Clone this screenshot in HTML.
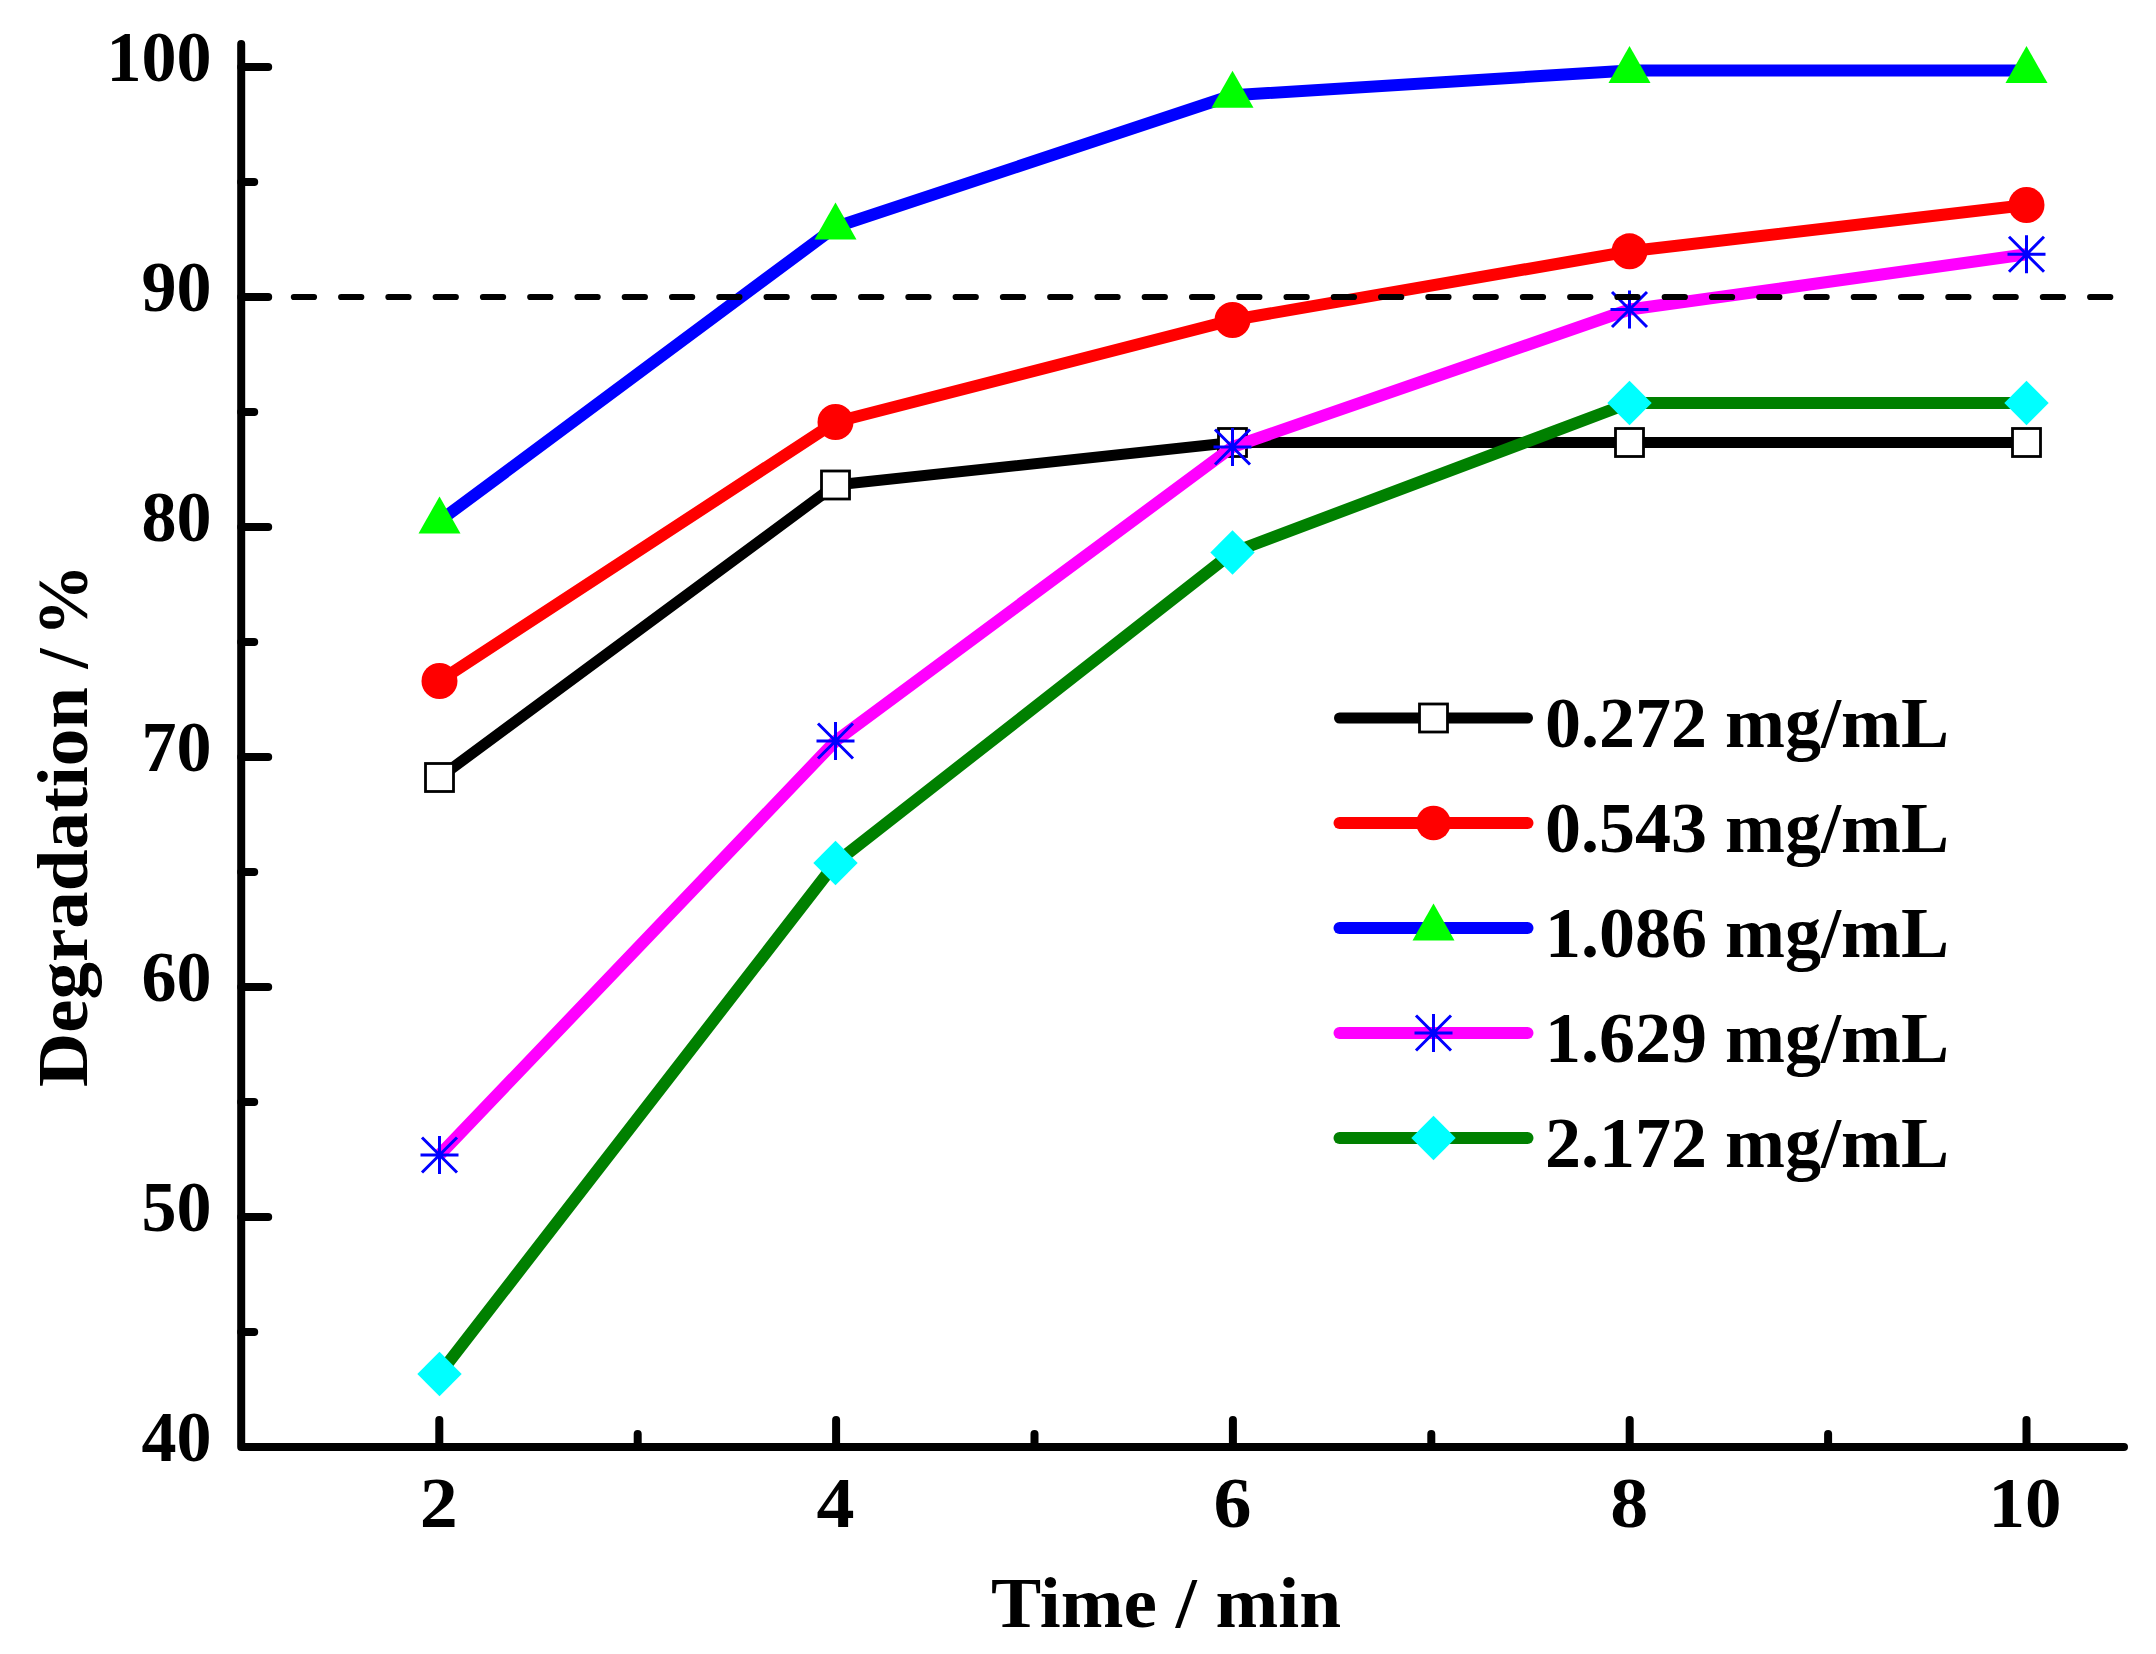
<!DOCTYPE html>
<html lang="en">
<head>
<meta charset="utf-8">
<title>Degradation vs Time</title>
<style>
html,body{margin:0;padding:0;background:#ffffff;}
body{width:2156px;height:1654px;overflow:hidden;}
svg{display:block;}
text{font-family:"Liberation Serif", "DejaVu Serif", serif;font-weight:bold;fill:#000000;}
</style>
</head>
<body>
<svg width="2156" height="1654" viewBox="0 0 2156 1654">
<rect x="0" y="0" width="2156" height="1654" fill="#ffffff"/>

<polyline points="439.5,777.5 835.5,485.0 1232.5,442.5 1629.5,442.5 2026.5,442.5" fill="none" stroke="#000000" stroke-width="11" stroke-linejoin="round" stroke-linecap="butt"/>
<rect x="425.5" y="763.5" width="28" height="28" fill="#ffffff" stroke="#000000" stroke-width="2.8"/>
<rect x="821.5" y="471.0" width="28" height="28" fill="#ffffff" stroke="#000000" stroke-width="2.8"/>
<rect x="1218.5" y="428.5" width="28" height="28" fill="#ffffff" stroke="#000000" stroke-width="2.8"/>
<rect x="1615.5" y="428.5" width="28" height="28" fill="#ffffff" stroke="#000000" stroke-width="2.8"/>
<rect x="2012.5" y="428.5" width="28" height="28" fill="#ffffff" stroke="#000000" stroke-width="2.8"/>
<polyline points="439.5,681.0 835.5,422.0 1232.5,320.0 1629.5,251.3 2026.5,205.0" fill="none" stroke="#ff0000" stroke-width="12" stroke-linejoin="round" stroke-linecap="butt"/>
<circle cx="439.5" cy="681.0" r="18" fill="#ff0000"/>
<circle cx="835.5" cy="422.0" r="18" fill="#ff0000"/>
<circle cx="1232.5" cy="320.0" r="18" fill="#ff0000"/>
<circle cx="1629.5" cy="251.3" r="18" fill="#ff0000"/>
<circle cx="2026.5" cy="205.0" r="18" fill="#ff0000"/>
<polyline points="439.5,521.0 835.5,227.0 1232.5,95.3 1629.5,70.5 2026.5,70.5" fill="none" stroke="#0000ff" stroke-width="12" stroke-linejoin="round" stroke-linecap="butt"/>
<polygon points="439.5,496.5 460.5,533.4 418.5,533.4" fill="#00ff00"/>
<polygon points="835.5,202.5 856.5,239.4 814.5,239.4" fill="#00ff00"/>
<polygon points="1232.5,70.8 1253.5,107.7 1211.5,107.7" fill="#00ff00"/>
<polygon points="1629.5,46.0 1650.5,82.9 1608.5,82.9" fill="#00ff00"/>
<polygon points="2026.5,46.0 2047.5,82.9 2005.5,82.9" fill="#00ff00"/>
<polyline points="439.5,1155.0 835.5,741.0 1232.5,447.0 1629.5,309.5 2026.5,254.3" fill="none" stroke="#ff00ff" stroke-width="12" stroke-linejoin="round" stroke-linecap="butt"/>
<path d="M420.5 1155.0H458.5M439.5 1136.0V1174.0M422.0 1137.5L457.0 1172.5M422.0 1172.5L457.0 1137.5" fill="none" stroke="#0000ff" stroke-width="3" stroke-linecap="butt"/>
<path d="M816.5 741.0H854.5M835.5 722.0V760.0M818.0 723.5L853.0 758.5M818.0 758.5L853.0 723.5" fill="none" stroke="#0000ff" stroke-width="3" stroke-linecap="butt"/>
<path d="M1213.5 447.0H1251.5M1232.5 428.0V466.0M1215.0 429.5L1250.0 464.5M1215.0 464.5L1250.0 429.5" fill="none" stroke="#0000ff" stroke-width="3" stroke-linecap="butt"/>
<path d="M1610.5 309.5H1648.5M1629.5 290.5V328.5M1612.0 292.0L1647.0 327.0M1612.0 327.0L1647.0 292.0" fill="none" stroke="#0000ff" stroke-width="3" stroke-linecap="butt"/>
<path d="M2007.5 254.3H2045.5M2026.5 235.3V273.3M2009.0 236.8L2044.0 271.8M2009.0 271.8L2044.0 236.8" fill="none" stroke="#0000ff" stroke-width="3" stroke-linecap="butt"/>
<polyline points="439.5,1374.0 835.5,863.0 1232.5,552.5 1629.5,403.0 2026.5,403.0" fill="none" stroke="#008000" stroke-width="12" stroke-linejoin="round" stroke-linecap="butt"/>
<polygon points="439.5,1351.8 461.7,1374.0 439.5,1396.2 417.3,1374.0" fill="#00ffff"/>
<polygon points="835.5,840.8 857.7,863.0 835.5,885.2 813.3,863.0" fill="#00ffff"/>
<polygon points="1232.5,530.3 1254.7,552.5 1232.5,574.7 1210.3,552.5" fill="#00ffff"/>
<polygon points="1629.5,380.8 1651.7,403.0 1629.5,425.2 1607.3,403.0" fill="#00ffff"/>
<polygon points="2026.5,380.8 2048.7,403.0 2026.5,425.2 2004.3,403.0" fill="#00ffff"/>
<line x1="293.9" y1="297" x2="2111" y2="297" stroke="#000000" stroke-width="6.2" stroke-linecap="round" stroke-dasharray="20.1 27.17"/>
<g stroke="#000000" stroke-width="8" stroke-linecap="round" fill="none">
<path d="M241.2 44V1447.0H2124" stroke-linejoin="round"/>
<line x1="241.2" y1="1332.0" x2="254.2" y2="1332.0"/>
<line x1="241.2" y1="1217.0" x2="268.2" y2="1217.0"/>
<line x1="241.2" y1="1102.0" x2="254.2" y2="1102.0"/>
<line x1="241.2" y1="987.0" x2="268.2" y2="987.0"/>
<line x1="241.2" y1="872.0" x2="254.2" y2="872.0"/>
<line x1="241.2" y1="757.0" x2="268.2" y2="757.0"/>
<line x1="241.2" y1="642.0" x2="254.2" y2="642.0"/>
<line x1="241.2" y1="527.0" x2="268.2" y2="527.0"/>
<line x1="241.2" y1="412.0" x2="254.2" y2="412.0"/>
<line x1="241.2" y1="297.0" x2="268.2" y2="297.0"/>
<line x1="241.2" y1="182.0" x2="254.2" y2="182.0"/>
<line x1="241.2" y1="67.0" x2="268.2" y2="67.0"/>
<line x1="439.3" y1="1447.0" x2="439.3" y2="1420.0"/>
<line x1="637.7" y1="1447.0" x2="637.7" y2="1434.0"/>
<line x1="836.1" y1="1447.0" x2="836.1" y2="1420.0"/>
<line x1="1034.5" y1="1447.0" x2="1034.5" y2="1434.0"/>
<line x1="1232.9" y1="1447.0" x2="1232.9" y2="1420.0"/>
<line x1="1431.3" y1="1447.0" x2="1431.3" y2="1434.0"/>
<line x1="1629.7" y1="1447.0" x2="1629.7" y2="1420.0"/>
<line x1="1828.1" y1="1447.0" x2="1828.1" y2="1434.0"/>
<line x1="2026.5" y1="1447.0" x2="2026.5" y2="1420.0"/>
</g>
<text x="141.5" y="1461.0" font-size="72" textLength="70.0" lengthAdjust="spacingAndGlyphs">40</text>
<text x="141.5" y="1231.0" font-size="72" textLength="70.0" lengthAdjust="spacingAndGlyphs">50</text>
<text x="141.5" y="1001.0" font-size="72" textLength="70.0" lengthAdjust="spacingAndGlyphs">60</text>
<text x="141.5" y="771.0" font-size="72" textLength="70.0" lengthAdjust="spacingAndGlyphs">70</text>
<text x="141.5" y="541.0" font-size="72" textLength="70.0" lengthAdjust="spacingAndGlyphs">80</text>
<text x="141.5" y="311.0" font-size="72" textLength="70.0" lengthAdjust="spacingAndGlyphs">90</text>
<text x="106.5" y="81.0" font-size="72" textLength="105.0" lengthAdjust="spacingAndGlyphs">100</text>
<text x="419.8" y="1526.5" font-size="72" textLength="38.0" lengthAdjust="spacingAndGlyphs">2</text>
<text x="816.6" y="1526.5" font-size="72" textLength="38.0" lengthAdjust="spacingAndGlyphs">4</text>
<text x="1213.4" y="1526.5" font-size="72" textLength="38.0" lengthAdjust="spacingAndGlyphs">6</text>
<text x="1610.2" y="1526.5" font-size="72" textLength="38.0" lengthAdjust="spacingAndGlyphs">8</text>
<text x="1988.5" y="1526.5" font-size="72" textLength="73.0" lengthAdjust="spacingAndGlyphs">10</text>
<text x="991" y="1626.7" font-size="72" textLength="350" lengthAdjust="spacingAndGlyphs">Time / min</text>
<g transform="translate(87 1086) rotate(-90)" font-size="72"><text x="-1" y="0" textLength="400" lengthAdjust="spacingAndGlyphs">Degradation</text><text x="417.5" y="0" textLength="20" lengthAdjust="spacingAndGlyphs">/</text><text x="449.8" y="0" textLength="72" lengthAdjust="spacingAndGlyphs">%</text></g>
<line x1="1339.5" y1="718" x2="1527.5" y2="718" stroke="#000000" stroke-width="11" stroke-linecap="round"/>
<rect x="1419.5" y="704.0" width="28" height="28" fill="#ffffff" stroke="#000000" stroke-width="2.8"/>
<text x="1545" y="746.6" font-size="72" textLength="404" lengthAdjust="spacingAndGlyphs">0.272 mg/mL</text>
<line x1="1339.5" y1="823" x2="1527.5" y2="823" stroke="#ff0000" stroke-width="12" stroke-linecap="round"/>
<circle cx="1433.5" cy="823.0" r="17.3" fill="#ff0000"/>
<text x="1545" y="851.6" font-size="72" textLength="404" lengthAdjust="spacingAndGlyphs">0.543 mg/mL</text>
<line x1="1339.5" y1="928" x2="1527.5" y2="928" stroke="#0000ff" stroke-width="12" stroke-linecap="round"/>
<polygon points="1433.5,903.5 1454.5,940.4 1412.5,940.4" fill="#00ff00"/>
<text x="1545" y="956.6" font-size="72" textLength="404" lengthAdjust="spacingAndGlyphs">1.086 mg/mL</text>
<line x1="1339.5" y1="1033" x2="1527.5" y2="1033" stroke="#ff00ff" stroke-width="12" stroke-linecap="round"/>
<path d="M1414.5 1033.0H1452.5M1433.5 1014.0V1052.0M1416.0 1015.5L1451.0 1050.5M1416.0 1050.5L1451.0 1015.5" fill="none" stroke="#0000ff" stroke-width="3" stroke-linecap="butt"/>
<text x="1545" y="1061.6" font-size="72" textLength="404" lengthAdjust="spacingAndGlyphs">1.629 mg/mL</text>
<line x1="1339.5" y1="1138" x2="1527.5" y2="1138" stroke="#008000" stroke-width="12" stroke-linecap="round"/>
<polygon points="1433.5,1115.8 1455.7,1138.0 1433.5,1160.2 1411.3,1138.0" fill="#00ffff"/>
<text x="1545" y="1166.6" font-size="72" textLength="404" lengthAdjust="spacingAndGlyphs">2.172 mg/mL</text>
</svg>
</body>
</html>
